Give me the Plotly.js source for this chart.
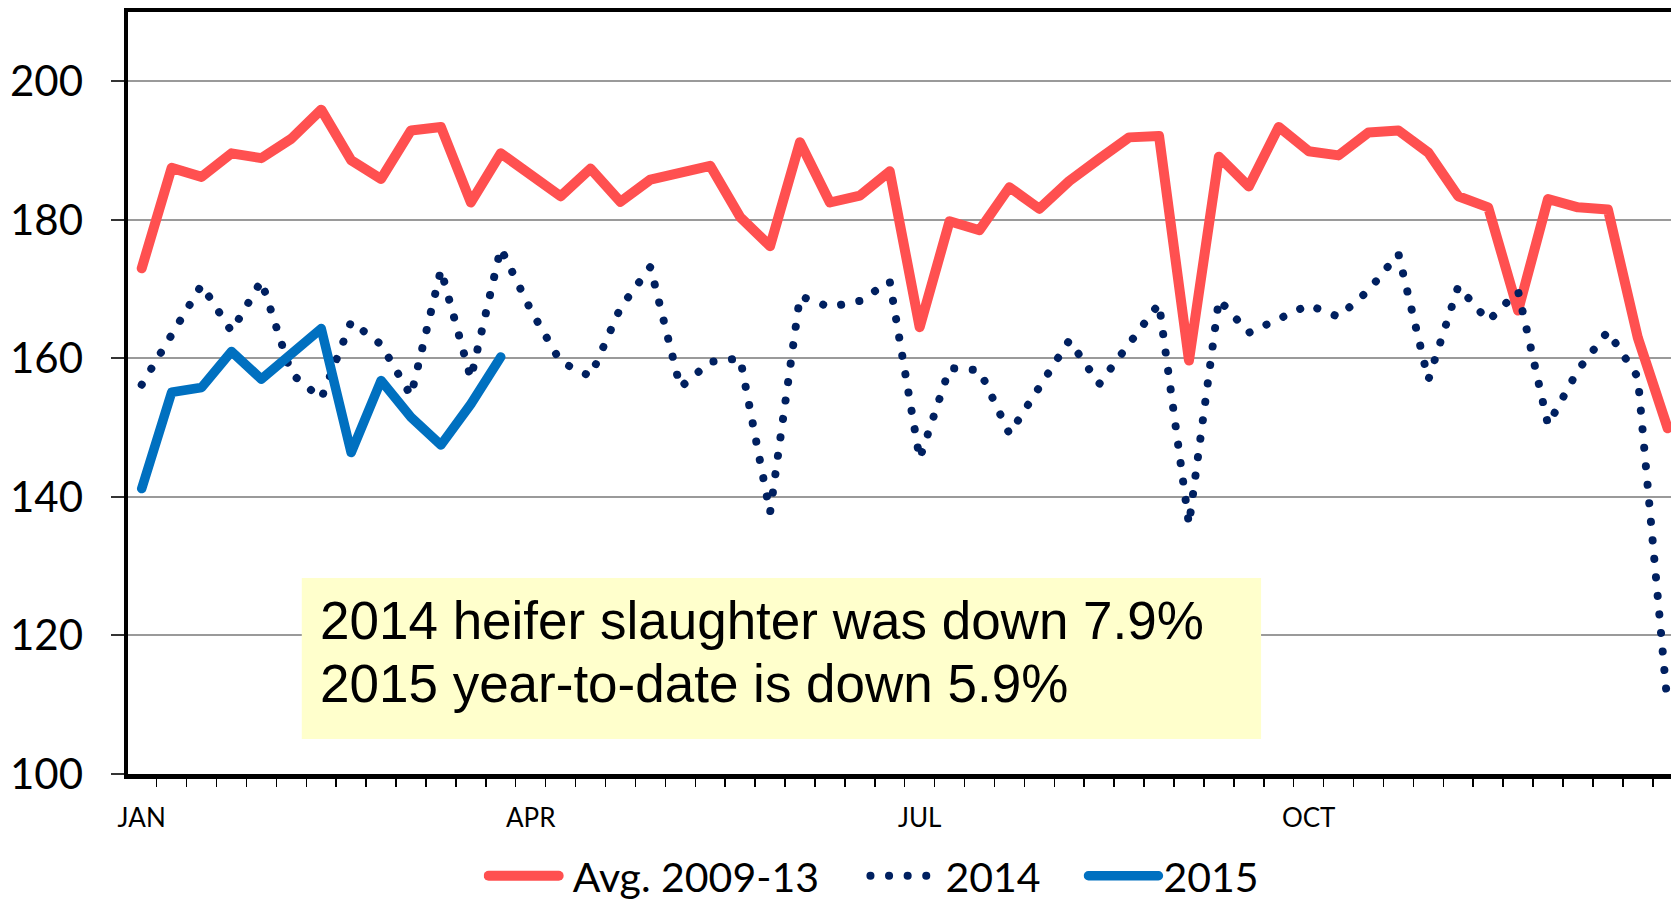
<!DOCTYPE html>
<html>
<head>
<meta charset="utf-8">
<script src="https://cdn.plot.ly/plotly-3.0.1.min.js"></script>
<style>
  html, body { margin: 0; padding: 0; background: #fff; }
  #chart { width: 1671px; height: 903px; }
  .js-line, .legendlines path { stroke-linecap: round !important; stroke-linejoin: round !important; }
</style>
</head>
<body>
<div id="chart"></div>
<script>
// Week numbers (1..52)
const weeks = [1,2,3,4,5,6,7,8,9,10,11,12,13,14,15,16,17,18,19,20,21,22,23,24,25,26,
               27,28,29,30,31,32,33,34,35,36,37,38,39,40,41,42,43,44,45,46,47,48,49,50,51,52];
const weeks2015 = [1,2,3,4,5,6,7,8,9,10,11,12,13];

// Avg. 2009-13 weekly heifer slaughter (thousand head)
const avg0913 = [173.0,187.5,186.2,189.6,188.9,191.7,195.9,188.6,185.9,192.9,193.4,182.5,189.6,
                 186.3,183.4,187.4,182.6,185.8,186.7,187.8,180.4,176.2,191.2,182.5,183.5,187.0,
                 164.5,179.8,178.5,184.7,181.6,185.6,188.8,191.9,192.1,159.7,189.1,184.8,193.4,
                 189.9,189.3,192.6,192.9,189.7,183.4,181.8,166.9,183.0,181.8,181.5,163.0,149.9];

// 2014
const y2014 = [156.2,163.4,170.6,163.9,171.2,157.8,154.2,165.3,162.0,154.6,172.8,157.1,175.9,
               167.0,159.5,157.4,167.3,173.2,155.8,159.5,160.0,137.7,169.0,167.4,168.3,171.1,
               145.5,158.6,158.3,149.1,156.0,162.6,156.3,162.2,167.9,136.0,168.5,163.7,165.7,
               167.7,166.0,169.8,175.1,156.9,170.4,165.4,169.7,150.4,158.3,163.9,157.3,109.7];

// 2015 year-to-date
const y2015 = [141.2,155.1,155.8,161.0,157.0,160.6,164.3,146.4,156.8,151.5,147.5,153.4,160.2];

const seriesNames = ['Avg. 2009-13', '2014', '2015'];
const monthTickWeeks = [1, 14, 27, 40];
const monthTickLabels = ['JAN', 'APR', 'JUL', 'OCT'];
const yTicks = [100, 120, 140, 160, 180, 200];
const noteLines = ['2014 heifer slaughter was down 7.9%', '2015 year-to-date is down 5.9%'];

const tickFont = 'Lato, "Open Sans", sans-serif';

const traces = [
  {
    x: weeks, y: avg0913, name: '\u00A0' + seriesNames[0], type: 'scatter', mode: 'lines', legend: 'legend',
    line: { color: '#FF5050', width: 10 }
  },
  {
    x: weeks, y: y2014, name: seriesNames[1], type: 'scatter', mode: 'lines', legend: 'legend2',
    line: { color: '#002060', width: 8, dash: '0.1px,18.5px' }
  },
  {
    x: weeks2015, y: y2015, name: seriesNames[2], type: 'scatter', mode: 'lines', legend: 'legend3',
    line: { color: '#0070C0', width: 9.5 }
  }
];

function legendAt(xPaper) {
  return {
    orientation: 'h', x: xPaper, xanchor: 'left', y: -0.134, yanchor: 'middle',
    font: { family: tickFont, size: 41, color: '#000' },
    itemwidth: 70, bgcolor: 'rgba(0,0,0,0)'
  };
}

const layout = {
  width: 1671, height: 903,
  margin: { l: 128, r: 0, t: 12, b: 129, autoexpand: false },
  paper_bgcolor: '#ffffff', plot_bgcolor: '#ffffff',
  showlegend: true,
  legend: legendAt(0.2305),
  legend2: legendAt(0.4779),
  legend3: legendAt(0.6192),
  xaxis: {
    type: 'linear', range: [0.542, 52.11],
    showgrid: false, zeroline: false,
    showline: true, linecolor: '#000', linewidth: 4.5, mirror: true,
    tickmode: 'array', tickvals: monthTickWeeks, ticktext: monthTickLabels,
    ticks: '', ticklabelstandoff: 17,
    tickfont: { family: tickFont, size: 26, color: '#000' },
    minor: { tickmode: 'linear', tick0: 0.5, dtick: 1, ticks: 'outside', ticklen: 8, tickwidth: 1.5, tickcolor: '#000', showgrid: false }
  },
  yaxis: {
    range: [100, 210], tickmode: 'array', tickvals: yTicks,
    showgrid: true, gridcolor: '#9A9A9A', gridwidth: 2, zeroline: false,
    showline: true, linecolor: '#000', linewidth: 4.5, mirror: false,
    ticks: 'outside', ticklen: 13, tickwidth: 2, tickcolor: '#333',
    ticklabelstandoff: 19,
    tickfont: { family: tickFont, size: 42, color: '#000' }
  },
  shapes: [
    { type: 'rect', xref: 'x', yref: 'y', x0: 6.35, x1: 38.41, y0: 105.05, y1: 128.3,
      fillcolor: '#FFFFCC', line: { width: 0 }, layer: 'above' }
  ],
  annotations: [
    { xref: 'x', yref: 'y', x: 6.88, y: 122.1, xanchor: 'left', yanchor: 'middle',
      text: noteLines[0], showarrow: false,
      font: { family: '"Liberation Sans", Arial, sans-serif', size: 53, color: '#000' } },
    { xref: 'x', yref: 'y', x: 6.88, y: 113.0, xanchor: 'left', yanchor: 'middle',
      text: noteLines[1], showarrow: false,
      font: { family: '"Liberation Sans", Arial, sans-serif', size: 53, color: '#000' } }
  ]
};

Plotly.newPlot('chart', traces, layout, { displayModeBar: false, staticPlot: true });
</script>
</body>
</html>
